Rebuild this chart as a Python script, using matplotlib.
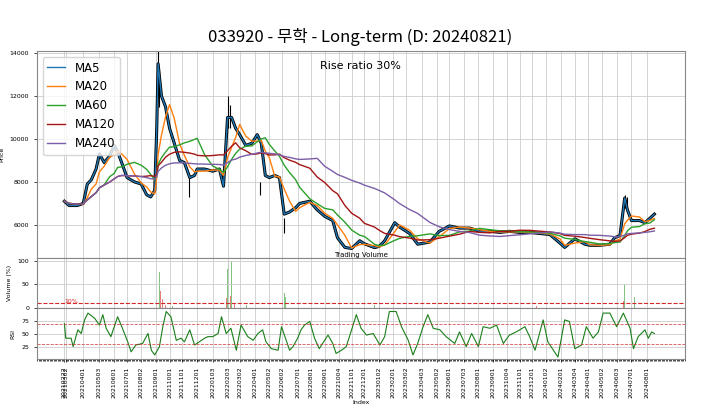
import numpy as np
import pandas as pd
import matplotlib
matplotlib.use("Agg")
import matplotlib.pyplot as plt
import matplotlib.ticker as mticker
from matplotlib import font_manager

names = {f.name for f in font_manager.fontManager.ttflist}
cjk = [n for n in ("Noto Sans CJK KR", "Noto Sans CJK JP", "Noto Sans CJK SC") if n in names]
plt.rcParams["font.family"] = ["DejaVu Sans"] + cjk

# ── data (x = trading-day index) ─────────────────────────────────
close_idx = [0, 7, 19, 28, 34, 40, 47, 52, 59, 67, 74, 79, 85, 93, 104, 114, 122, 128,
             134, 137, 139, 144, 150, 156, 163, 171, 178, 186, 193, 197, 208, 220, 230,
             236, 242, 248, 254, 260, 269, 278, 286, 292, 298, 304, 312, 319, 326, 334,
             343, 349, 364, 375, 386, 398, 405, 416, 426, 438, 445, 460, 467, 475, 490,
             497, 512, 524, 542, 556, 571, 586, 601, 616, 631, 646, 660, 675, 690, 705,
             720, 735, 742, 757, 772, 779, 794, 809, 816, 824, 831, 835, 841, 853, 861,
             868, 875]
close = [7100, 6900, 6900, 7000, 7900, 8100, 8600, 9300, 8900, 9200, 9700, 9400, 8900,
         8200, 8000, 7900, 7400, 7300, 7600, 10500, 13500, 12000, 11500, 10500, 9800,
         9000, 8900, 8200, 8300, 8600, 8600, 8500, 8600, 7800, 11000, 11000, 10500,
         10200, 9700, 9800, 10200, 9800, 8300, 8200, 8300, 8200, 6500, 6600, 6800, 7000,
         7100, 6700, 6400, 6200, 5400, 4950, 4900, 5260, 5120, 4940, 5000, 5260, 6100,
         5900, 5600, 5100, 5200, 5700, 5950, 5850, 5850, 5700, 5700, 5650, 5700, 5650,
         5650, 5600, 5550, 5150, 4950, 5350, 5100, 5050, 5050, 5100, 5400, 5500, 7250,
         6700, 6200, 6200, 6100, 6300, 6500]

spike_idx = [139, 141, 185, 242, 246, 290, 326, 831, 835]
spike_hi = [14200, 13200, 7300, 12000, 11600, 7400, 6300, 7400, 7300]
spike_lo = [12000, 11500, 8200, 10500, 10500, 8000, 5600, 6800, 6600]

vol_idx = [137, 139, 141, 143, 145, 150, 160, 240, 242, 244, 246, 248, 250, 252, 270,
           290, 324, 326, 328, 460, 467, 700, 829, 831, 833, 845]
vol_pct = [15, 93, 75, 35, 18, 6, 4, 20, 82, 100, 25, 100, 22, 8, 5, 4, 10, 32, 22,
           5, 10, 3, 14, 50, 12, 22]
vol_red = [1, 0, 0, 1, 1, 1, 0, 1, 0, 0, 1, 0, 0, 1, 0, 1, 1, 0, 0, 0, 0, 1, 1, 0, 1, 0]

rsi_idx = [0, 2, 10, 13, 20, 25, 30, 35, 45, 52, 57, 62, 69, 79, 87, 94, 99, 106, 116,
           124, 129, 134, 141, 146, 151, 158, 166, 173, 178, 186, 193, 200, 208, 213,
           220, 228, 233, 240, 247, 255, 262, 272, 280, 287, 294, 299, 307, 317, 322,
           329, 334, 339, 346, 351, 356, 364, 371, 378, 391, 398, 403, 411, 418, 425,
           433, 440, 448, 458, 468, 475, 482, 492, 500, 510, 517, 524, 532, 539, 547,
           557, 566, 579, 586, 596, 604, 614, 621, 631, 641, 651, 660, 670, 683, 690,
           698, 710, 717, 732, 742, 749, 757, 767, 774, 784, 792, 799, 809, 819, 829,
           839, 844, 851, 861, 866, 871, 875]
rsi = [70, 42, 42, 26, 58, 51, 77, 90, 80, 67, 87, 61, 45, 83, 58, 35, 16, 29, 32, 51,
       19, 10, 26, 64, 93, 83, 38, 42, 35, 58, 29, 35, 42, 45, 45, 51, 83, 51, 61, 19,
       67, 45, 38, 51, 58, 35, 22, 19, 64, 38, 19, 26, 42, 58, 67, 74, 42, 22, 48, 32,
       13, 19, 26, 54, 87, 61, 48, 51, 29, 45, 93, 93, 64, 38, 10, 32, 64, 87, 61, 58,
       45, 32, 54, 26, 51, 26, 64, 61, 67, 32, 48, 54, 64, 45, 19, 77, 35, 6, 77, 74,
       22, 29, 64, 42, 54, 90, 90, 64, 90, 61, 22, 45, 58, 42, 54, 51]

tick_idx = [0, 3, 28, 52, 74, 93, 114, 136, 156, 175, 197, 220, 242, 260, 282, 304,
            323, 346, 366, 386, 408, 426, 445, 467, 487, 507, 530, 552, 571, 593, 613,
            635, 657, 675, 694, 715, 737, 757, 776, 798, 820, 841, 864]
tick_lbl = ["20210222", "20210302", "20210401", "20210503", "20210601", "20210701",
            "20210802", "20210901", "20211001", "20211101", "20211201", "20220103",
            "20220203", "20220302", "20220401", "20220502", "20220602", "20220701",
            "20220801", "20220901", "20221004", "20221101", "20221201", "20230102",
            "20230201", "20230302", "20230403", "20230502", "20230601", "20230703",
            "20230801", "20230901", "20231004", "20231101", "20231201", "20240102",
            "20240201", "20240304", "20240401", "20240502", "20240603", "20240701",
            "20240801"]

# moving averages over day windows on the sampled closes
s = pd.Series(close, index=pd.to_datetime(close_idx, unit="D"))
ma = {w: s.rolling(f"{w}D", min_periods=1).mean().values for w in (20, 60, 120, 240)}

# ── figure ───────────────────────────────────────────────────────
fig = plt.figure(figsize=(7.2, 4.04), dpi=100)
L, W = 0.051, 0.9
ax1 = fig.add_axes([L, 0.361, W, 0.513])
ax2 = fig.add_axes([L, 0.238, W, 0.123], sharex=ax1)
ax3 = fig.add_axes([L, 0.111, W, 0.127], sharex=ax1)

fig.text(0.5, 0.885, "033920 - 무학 - Long-term (D: 20240821)", ha="center",
         va="bottom", fontsize=12, family=cjk[:1] + ["DejaVu Sans"])

ax1.vlines(spike_idx, spike_lo, spike_hi, color="black", lw=0.8)
ax1.plot(close_idx, close, color="black", lw=2.2)
ax1.plot(close_idx, close, color="#1f77b4", lw=1.0, label="MA5")
ax1.plot(close_idx, ma[20], color="#ff7f0e", lw=1.0, label="MA20")
ax1.plot(close_idx, ma[60], color="#2ca02c", lw=1.0, label="MA60")
ax1.plot(close_idx, ma[120], color="#a31515", lw=1.0, label="MA120")
ax1.plot(close_idx, ma[240], color="#7b5ea7", lw=1.0, label="MA240")
ax1.set_ylim(4450, 14100)
ax1.set_yticks([6000, 8000, 10000, 12000, 14000])
ax1.set_ylabel("Price", fontsize=4.5)
ax1.legend(loc="upper left", fontsize=8.5, handlelength=1.5, framealpha=0.8)
ax1.text(0.5, 0.95, "Rise ratio 30%", transform=ax1.transAxes, ha="center",
         va="top", fontsize=8)
ax1.text(0.5, 0.0, "Trading Volume", transform=ax1.transAxes, ha="center",
         va="bottom", fontsize=5)

colors = ["#d62728" if r else "#2ca02c" for r in vol_red]
ax2.bar(vol_idx, vol_pct, width=1.2, color=colors, alpha=0.6)
ax2.axhline(10, color="#d62728", ls="--", lw=0.8)
ax2.text(0, 11, "10%", color="#d62728", fontsize=4.5)
ax2.set_ylim(0, 105)
ax2.set_yticks([0, 50, 100])
ax2.set_ylabel("Volume (%)", fontsize=4.5)

ax3.plot(rsi_idx, rsi, color="#1a7f1a", lw=0.8)
ax3.axhline(70, color="#d62728", ls="--", lw=0.6, alpha=0.8)
ax3.axhline(30, color="#d62728", ls="--", lw=0.6, alpha=0.8)
ax3.set_ylim(2, 100)
ax3.set_yticks([25, 50, 75])
ax3.set_ylabel("RSI", fontsize=4.5)
ax3.set_xlabel("Index", fontsize=4.5, labelpad=1)

ax3.set_xlim(-41, 920)
ax3.set_xticks(tick_idx)
ax3.set_xticklabels(tick_lbl, rotation=90)
ax3.xaxis.set_minor_locator(mticker.MultipleLocator(2))
ax3.tick_params(axis="x", which="minor", length=1.5, width=0.5)

for ax in (ax1, ax2, ax3):
    ax.grid(True, color="#cccccc", lw=0.6)
    ax.tick_params(labelsize=4.5, length=2, width=0.5)
    for sp in ax.spines.values():
        sp.set_color("#888888")
for ax in (ax1, ax2):
    plt.setp(ax.get_xticklabels(), visible=False)
    ax.tick_params(axis="x", length=0)

fig.savefig("out.png", dpi=100)
